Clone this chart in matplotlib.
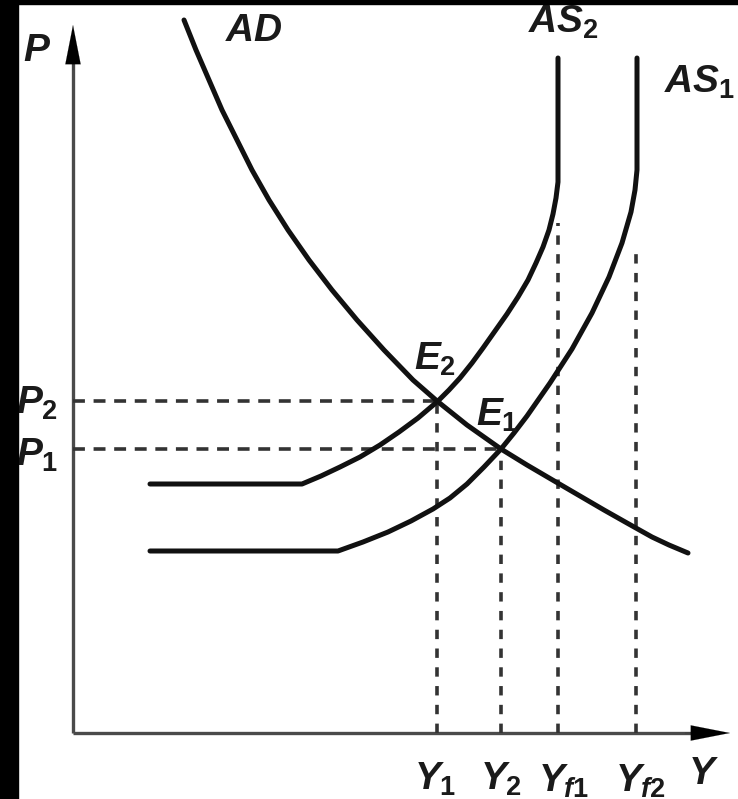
import matplotlib
matplotlib.use("Agg")
import matplotlib.pyplot as plt
from matplotlib.patches import Rectangle

# output Y (x) and price level P (y), origin at the axes corner
ad_y = [111, 123, 136, 149, 164, 179, 196, 215, 236, 259, 284, 311, 340,
        364, 394, 428, 454, 483, 507, 531, 554, 579, 596, 615]
ad_p = [713, 683, 653, 623, 593, 563, 533, 503, 473, 443, 413, 383, 353,
        332, 308, 284, 268, 251, 237, 223, 210, 196, 188, 180]

as2_y = [77, 229, 248, 267, 287, 307, 326, 345, 365, 376, 387, 399, 410,
         422, 434, 445, 455, 463, 470, 476, 480, 483, 485, 485]
as2_p = [249, 249, 257, 266, 276, 288, 301, 315, 332, 343, 355, 370, 385,
         402, 419, 436, 453, 470, 486, 503, 519, 535, 551, 675]

as1_y = [77, 265, 290, 315, 338, 360, 377, 394, 411, 428, 441, 454, 477,
         499, 519, 536, 549, 558, 562, 564, 564]
as1_p = [182, 182, 191, 201, 212, 224, 235, 249, 266, 284, 300, 317, 350,
         384, 420, 456, 490, 521, 543, 563, 675]

# equilibria and full-employment levels
eq_y = [364, 428]        # Y1, Y2
eq_p = [332, 284]        # P2, P1
yf = [485, 563]          # Yf1, Yf2
yf_top = [510, 486]

y_tip = 657
p_tip = 708

plt.rcParams['mathtext.fontset'] = 'custom'
plt.rcParams['mathtext.it'] = 'Liberation Sans:italic:bold'
plt.rcParams['mathtext.rm'] = 'Liberation Sans:bold'

fig = plt.figure(figsize=(7.38, 7.99), dpi=100)
ax = fig.add_axes([0, 0, 1, 1])
ax.set_xlim(-73, 665)
ax.set_ylim(-66, 733)
ax.axis('off')

# black frame strips of the scan
fig.patches.append(Rectangle((0, 0), 18 / 738, 1, transform=fig.transFigure, color='black', zorder=0))
fig.patches.append(Rectangle((0, 1 - 4 / 799), 1, 4 / 799, transform=fig.transFigure, color='black', zorder=0))

# axes with arrows
axis_col = '#4a4a4a'
ax.plot([0, 0], [0, p_tip - 30], color=axis_col, lw=2.4, solid_capstyle='butt')
ax.plot([0, y_tip - 30], [0, 0], color=axis_col, lw=2.4, solid_capstyle='butt')
arr = dict(arrowstyle='-|>,head_length=28,head_width=5.5', mutation_scale=1,
           color='black', lw=0.1, shrinkA=0, shrinkB=0)
ax.annotate('', xy=(0, p_tip), xytext=(0, p_tip - 45), arrowprops=arr)
ax.annotate('', xy=(y_tip, 0), xytext=(y_tip - 45, 0), arrowprops=arr)

# dashed guides
hdash = dict(color='#333333', lw=2.6, dashes=(3.3, 2.4))
vdash = dict(color='#333333', lw=2.6, dashes=(2.6, 2.6))
for y, p in zip(eq_y, eq_p):
    ax.plot([y, y], [0, p], **vdash)
    ax.plot([0, y], [p, p], **hdash)
for y, top in zip(yf, yf_top):
    ax.plot([y, y], [0, top], **vdash)

# curves
curve = dict(color='#111111', lw=3.6, solid_joinstyle='round', solid_capstyle='round')
ax.plot(ad_y, ad_p, **curve)
ax.plot(as2_y, as2_p, **curve)
ax.plot(as1_y, as1_p, **curve)

# labels
fs = 28
txt = dict(fontsize=fs, color='#1a1a1a', ha='center', va='center')
ax.text(-36, 683, r'$P$', **txt)
ax.text(181, 703, r'$AD$', **txt)
ax.text(490, 711, r'$AS_2$', **txt)
ax.text(662, 651, r'$AS_1$', fontsize=fs, color='#1a1a1a', ha='right', va='center')
ax.text(-36, 330, r'$P_2$', **txt)
ax.text(-36, 278, r'$P_1$', **txt)
ax.text(362, 374, r'$E_2$', **txt)
ax.text(424, 318, r'$E_1$', **txt)
ax.text(362, -46, r'$Y_1$', **txt)
ax.text(428, -46, r'$Y_2$', **txt)
ax.text(491, -48, r'$Y_{f1}$', **txt)
ax.text(568, -48, r'$Y_{f2}$', **txt)
ax.text(630, -40, r'$Y$', **txt)

fig.savefig('out.png', dpi=100, facecolor='white')
